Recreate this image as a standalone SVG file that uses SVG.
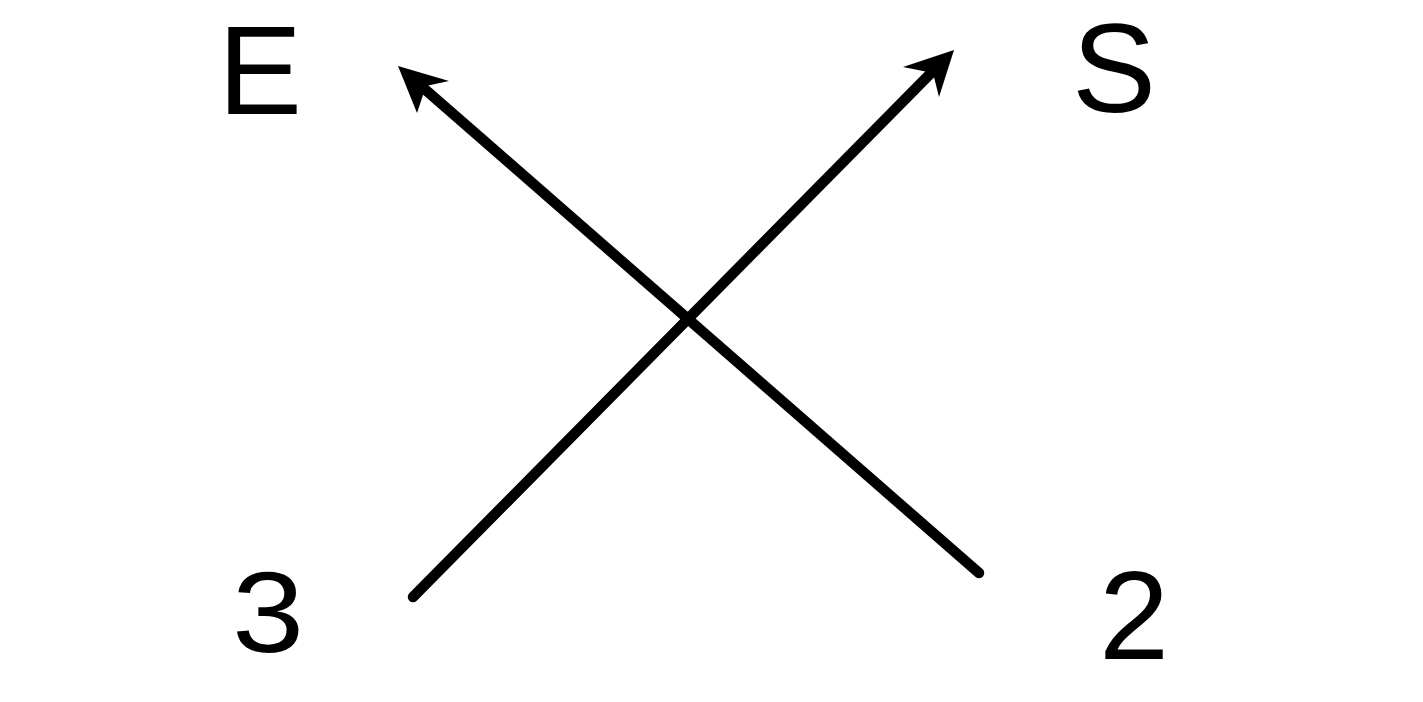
<svg xmlns="http://www.w3.org/2000/svg" width="1423" height="702" viewBox="0 0 1423 702">
<style>
.lbl{font-family:"Liberation Sans",Arial,sans-serif;font-size:126px;fill:#000}
.ln{stroke:#000;stroke-width:10.5;stroke-linecap:round;fill:none}
</style>
<rect width="1423" height="702" fill="#fff"/>
<g id="node-E"><text class="lbl" x="218" y="114">E</text></g>
<g id="node-S"><text class="lbl" x="1072" y="112">S</text></g>
<g id="node-3"><text class="lbl" transform="translate(232,652) scale(1.03,0.91)">3</text></g>
<g id="node-2"><text class="lbl" x="1099" y="659">2</text></g>
<g id="connectors">
<line class="ln" x1="979" y1="573" x2="420" y2="85"/>
<polygon points="398,66 449,81 426,86 417,113" fill="#000"/>
<line class="ln" x1="413" y1="597" x2="935" y2="69"/>
<polygon points="954,50 939,97 933,73 903,67" fill="#000"/>
</g>
</svg>
